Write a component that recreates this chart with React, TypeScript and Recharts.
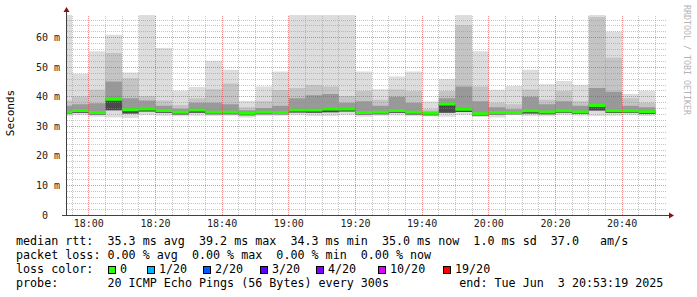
import { ComposedChart, Area, XAxis, YAxis, ReferenceLine } from "recharts";

// 5-minute intervals (start times), the last step closes at END_STEP
const STARTS = [
  "17:50", "17:55", "18:00", "18:05", "18:10", "18:15", "18:20", "18:25", "18:30", "18:35",
  "18:40", "18:45", "18:50", "18:55", "19:00", "19:05", "19:10", "19:15", "19:20", "19:25",
  "19:30", "19:35", "19:40", "19:45", "19:50", "19:55", "20:00", "20:05", "20:10", "20:15",
  "20:20", "20:25", "20:30", "20:35", "20:40", "20:45",
];
const END_STEP = "20:50";
const GRAPH_END = "20:53:19";

// smoke levels in ms
const PING_MAX = [67.7, 47.8, 55.4, 61.0, 48.2, 67.7, 56.5, 42.1, 43.3, 52.2, 49.2, 38.6, 43.5, 48.6, 67.7, 67.7, 67.7, 67.7, 48.6, 42.6, 46.9, 48.6, 38.4, 46.0, 67.7, 55.4, 42.4, 43.7, 49.2, 44.3, 45.4, 44.1, 67.7, 62.1, 41.0, 42.1];
const PING_P90 = [38.8, 40.0, 42.4, 54.8, 46.3, 40.2, 38.8, 37.2, 39.5, 42.6, 44.5, 36.5, 38.5, 42.3, 43.0, 44.0, 43.5, 40.3, 42.0, 39.0, 42.5, 42.0, 35.8, 42.0, 64.2, 43.5, 38.0, 37.5, 42.5, 39.0, 42.0, 38.5, 67.0, 53.2, 39.5, 38.0];
const PING_P75 = [37.0, 37.5, 37.8, 45.2, 39.5, 38.8, 37.0, 36.0, 38.0, 38.0, 37.5, 35.5, 36.2, 37.0, 39.5, 40.5, 41.0, 38.0, 38.5, 37.0, 40.0, 38.0, 35.0, 39.5, 43.5, 38.5, 36.5, 35.8, 40.0, 37.5, 38.5, 37.0, 43.0, 41.7, 37.0, 36.5];
const MEDIAN = [34.8, 35.4, 34.7, 39.2, 35.6, 35.9, 35.4, 34.8, 35.5, 34.8, 34.8, 34.4, 34.8, 34.7, 35.5, 35.5, 35.9, 35.9, 34.7, 34.8, 35.4, 34.8, 34.4, 37.6, 35.8, 34.3, 34.7, 34.7, 35.3, 34.9, 35.3, 34.9, 37.1, 35.3, 35.3, 35.0];
const PING_P25 = [34.2, 34.6, 34.0, 35.5, 34.4, 35.0, 34.6, 34.0, 34.6, 34.1, 34.1, 33.8, 34.1, 34.1, 34.7, 34.6, 34.8, 35.0, 34.0, 34.1, 34.6, 34.0, 33.8, 34.6, 34.9, 33.7, 34.0, 34.1, 34.4, 34.1, 34.6, 34.2, 35.4, 34.5, 34.6, 34.3];
const PING_MIN = [33.5, 33.8, 33.3, 33.0, 32.8, 33.8, 33.6, 33.4, 33.6, 33.5, 33.6, 33.0, 33.6, 33.6, 33.8, 33.5, 33.5, 33.8, 33.3, 33.6, 33.7, 33.4, 33.4, 33.3, 33.8, 33.2, 33.0, 33.8, 33.5, 33.4, 33.8, 33.6, 33.5, 33.6, 33.8, 33.5];

const X_TICKS = ["18:00", "18:20", "18:40", "19:00", "19:20", "19:40", "20:00", "20:20", "20:40"];
const Y_TICKS = [0, 10, 20, 30, 40, 50, 60];
const Y_MAX = 67.7;

const LEGEND_LINES = [
  "median rtt:  35.3 ms avg  39.2 ms max  34.3 ms min  35.0 ms now  1.0 ms sd  37.0   am/s",
  "packet loss: 0.00 % avg  0.00 % max  0.00 % min  0.00 % now",
  "loss color:",
  "probe:       20 ICMP Echo Pings (56 Bytes) every 300s          end: Tue Jun  3 20:53:19 2025",
];
const LOSS_LABELS = ["0", "1/20", "2/20", "3/20", "4/20", "10/20", "19/20"];
const LOSS_COLORS = ["#26ff00", "#00b8ff", "#0059ff", "#5e00ff", "#7e00ff", "#dd00ff", "#ff0000"];
const LOSS_X = [108, 147, 203, 260, 316, 378, 443];

const MONO = "'DejaVu Sans Mono', monospace";

// minutes relative to 18:00
function toMin(s: string) {
  const [h, m, sec] = s.split(":").map(Number);
  return (h - 18) * 60 + m + (sec || 0) / 60;
}
function fmtMin(v: number) {
  const total = 18 * 60 + v;
  const h = Math.floor(total / 60);
  const m = Math.round(total % 60);
  return `${h}:${String(m).padStart(2, "0")}`;
}

const X_END = toMin(GRAPH_END);
const X_START = X_END - 180;

const rows = STARTS.map((t, i) => ({
  t: toMin(t),
  outer: [PING_MIN[i], PING_MAX[i]],
  upper: [PING_P25[i], PING_P90[i]],
  inner: [PING_P25[i], PING_P75[i]],
  core: [PING_P25[i], MEDIAN[i]],
  med: [MEDIAN[i] - 0.5, MEDIAN[i] + 0.5],
}));
const data = [...rows, { ...rows[rows.length - 1], t: toMin(END_STEP) }];

const minorX: number[] = [];
for (let m = -5; m <= 170; m += 5) if (m % 20 !== 0) minorX.push(m);
const minorY: number[] = [];
for (let v = 2; v < Y_MAX; v += 2) if (v % 10 !== 0) minorY.push(v);

const SMOKE = [
  { key: "outer", color: "#dddddd" },
  { key: "upper", color: "#c4c4c4" },
  { key: "inner", color: "#999999" },
  { key: "core", color: "#4a4a4a" },
  { key: "med", color: "#26ff00" },
];

// snap grid lines onto whole pixels, like rrdtool
function gridShape(color: string, opacity: number) {
  return (p: any) => {
    const vertical = Math.abs(p.x1 - p.x2) < 0.01;
    const x = Math.floor(p.x1) + 0.5;
    const y = Math.floor(p.y1) + 0.5;
    return (
      <line
        x1={vertical ? x : Math.round(p.x1)}
        x2={vertical ? x : Math.round(p.x2)}
        y1={vertical ? Math.round(p.y1) : y}
        y2={vertical ? Math.round(p.y2) : y}
        stroke={color}
        strokeOpacity={opacity}
        strokeWidth={1}
        strokeDasharray="1 1"
      />
    );
  };
}
const minorShape = gridShape("#8f8f8f", 0.5);
const majorShape = gridShape("#e04040", 0.6);

export default function App() {
  return (
    <div style={{ position: "absolute", left: 0, top: 0, width: 697, height: 297, background: "#fff", fontFamily: MONO }}>
      <ComposedChart width={697} height={230} data={data} margin={{ top: 15, right: 30.5, bottom: 0, left: 6.5 }}>
        <XAxis
          type="number"
          dataKey="t"
          domain={[X_START, X_END]}
          allowDataOverflow
          ticks={X_TICKS.map(toMin)}
          tickFormatter={fmtMin}
          axisLine={false}
          tickLine={false}
          tickSize={0}
          tickMargin={5}
          height={15}
          tick={{ fontSize: 10, fontFamily: MONO, fill: "#222" }}
        />
        <YAxis
          type="number"
          domain={[0, Y_MAX]}
          allowDataOverflow
          ticks={Y_TICKS}
          tickFormatter={(v: number) => (v === 0 ? "0\u00a0\u00a0" : `${v} m`)}
          axisLine={false}
          tickLine={false}
          tickSize={0}
          tickMargin={6.5}
          width={60}
          tick={{ fontSize: 10, fontFamily: MONO, fill: "#222" }}
        />
        {SMOKE.map((s) => (
          <Area
            key={s.key}
            dataKey={s.key}
            type="stepAfter"
            stroke="none"
            fill={s.color}
            fillOpacity={1}
            dot={false}
            activeDot={false}
            isAnimationActive={false}
          />
        ))}
        {minorX.map((m) => (
          <ReferenceLine key={"mx" + m} x={m} zIndex={900} shape={minorShape} />
        ))}
        {minorY.map((v) => (
          <ReferenceLine key={"my" + v} y={v} zIndex={900} shape={minorShape} />
        ))}
        {X_TICKS.map((t) => (
          <ReferenceLine key={"Mx" + t} x={toMin(t)} zIndex={950} shape={majorShape} />
        ))}
        {Y_TICKS.filter((v) => v > 0).map((v) => (
          <ReferenceLine key={"My" + v} y={v} zIndex={950} shape={majorShape} />
        ))}
      </ComposedChart>

      {/* axes with arrows, drawn over the plot like rrdtool does */}
      <svg width={697} height={230} style={{ position: "absolute", left: 0, top: 0, pointerEvents: "none" }}>
        <line x1={66.5} y1={216} x2={66.5} y2={10} stroke="#404040" />
        <line x1={62} y1={215.5} x2={670} y2={215.5} stroke="#404040" />
        <polygon points="63.5,12 69.5,12 66.5,7" fill="#8b1010" />
        <polygon points="669,212.5 669,218.5 674,215.5" fill="#8b1010" />
      </svg>

      <div
        style={{
          position: "absolute",
          left: 4,
          top: 113,
          width: 14,
          transform: "translateY(-50%) rotate(180deg)",
          writingMode: "vertical-rl",
          fontSize: 11,
          color: "#000",
          lineHeight: "14px",
        }}
      >
        Seconds
      </div>
      <div
        style={{
          position: "absolute",
          left: 682,
          top: 5,
          writingMode: "vertical-rl",
          fontSize: 8.3,
          color: "#b4b4b4",
          lineHeight: "10px",
        }}
      >
        RRDTOOL / TOBI OETIKER
      </div>

      <div style={{ position: "absolute", left: 16, top: 234, fontSize: 11.7, lineHeight: "14px", whiteSpace: "pre", color: "#000" }}>
        {LEGEND_LINES.map((l, i) => (
          <div key={i}>{l}</div>
        ))}
      </div>
      {LOSS_LABELS.map((lab, i) => (
        <div key={lab} style={{ position: "absolute", left: LOSS_X[i], top: 262, height: 14, fontSize: 11.7, lineHeight: "14px", whiteSpace: "pre" }}>
          <span
            style={{
              display: "inline-block",
              width: 6,
              height: 6,
              background: LOSS_COLORS[i],
              border: "1px solid #000",
              marginRight: 4,
              verticalAlign: "-1px",
            }}
          />
          {lab}
        </div>
      ))}
    </div>
  );
}
